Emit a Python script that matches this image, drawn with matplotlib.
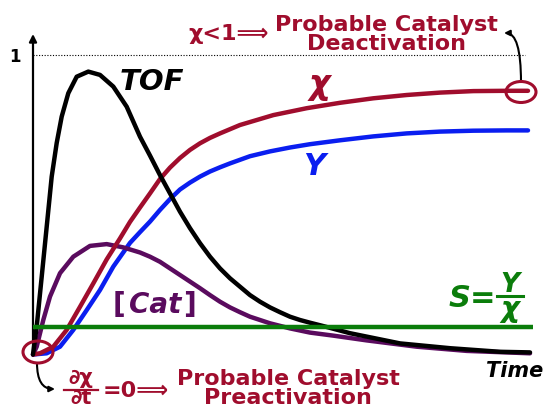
import matplotlib
matplotlib.use('Agg')
import matplotlib.pyplot as plt
from matplotlib.patches import Ellipse
from matplotlib.lines import Line2D

# ---------------- data ----------------
tof_t = [0, 0.074, 0.174, 0.274, 0.374, 0.474, 0.574, 0.706, 0.874, 1.106,
         1.34, 1.606, 1.874, 2.14, 2.34, 2.54, 2.74, 2.94, 3.14, 3.34, 3.54,
         3.74, 3.94, 4.14, 4.34, 4.54, 4.74, 4.94, 5.14, 5.34, 5.54, 5.8,
         6.34, 7.34, 8.34, 9.34, 9.94]
tof = [0, 0.093, 0.259, 0.426, 0.593, 0.705, 0.793, 0.871, 0.926, 0.943,
       0.932, 0.893, 0.826, 0.726, 0.663, 0.598, 0.537, 0.476, 0.421, 0.371,
       0.326, 0.287, 0.254, 0.226, 0.198, 0.176, 0.157, 0.141, 0.126, 0.115,
       0.106, 0.095, 0.071, 0.037, 0.021, 0.009, 0.007]

cat_t = [0, 0.074, 0.206, 0.34, 0.54, 0.806, 1.14, 1.474, 1.806, 2.14, 2.34,
         2.54, 2.74, 2.94, 3.14, 3.34, 3.54, 3.74, 3.94, 4.14, 4.34, 4.54,
         4.74, 5.14, 5.54, 6.0, 6.674, 7.674, 8.674, 9.94]
cat = [0, 0.026, 0.115, 0.193, 0.271, 0.326, 0.362, 0.368, 0.357, 0.34, 0.326,
       0.309, 0.287, 0.265, 0.243, 0.221, 0.198, 0.176, 0.157, 0.141, 0.126,
       0.115, 0.104, 0.087, 0.073, 0.063, 0.047, 0.026, 0.012, 0.004]

chi_t = [0, 0.14, 0.406, 0.674, 0.94, 1.206, 1.474, 1.74, 1.94, 2.14, 2.34,
         2.54, 2.74, 2.94, 3.14, 3.34, 3.54, 3.74, 4.14, 4.806, 5.474, 6.14,
         6.806, 7.474, 8.14, 8.806, 9.474, 9.9]
chi = [0, 0.004, 0.026, 0.082, 0.159, 0.237, 0.317, 0.387, 0.442, 0.49, 0.537,
       0.585, 0.623, 0.655, 0.682, 0.704, 0.722, 0.737, 0.765, 0.798, 0.821,
       0.839, 0.854, 0.865, 0.873, 0.878, 0.879, 0.879]

y_t = [0, 0.274, 0.54, 0.806, 1.074, 1.34, 1.606, 1.94, 2.14, 2.34, 2.54, 2.74,
       2.94, 3.14, 3.34, 3.54, 3.74, 3.94, 4.14, 4.34, 4.74, 5.14, 5.54, 6.14,
       6.806, 7.474, 8.14, 8.806, 9.474, 9.9]
yld = [0, 0.004, 0.026, 0.082, 0.148, 0.215, 0.293, 0.372, 0.408, 0.443, 0.482,
       0.518, 0.55, 0.573, 0.593, 0.61, 0.624, 0.637, 0.649, 0.661, 0.677,
       0.69, 0.701, 0.714, 0.727, 0.737, 0.743, 0.746, 0.747, 0.747]

s_t = [0, 10.0]
sel = [0.093, 0.093]

# ---------------- style ----------------
RED = '#a00d2d'
PURPLE = '#5a0b5e'
BLUE = '#0a1ef0'
GREEN = '#0b7d0b'
BLACK = '#000000'
LW = 3.2

plt.rcParams['font.family'] = ['DejaVu Sans']

fig = plt.figure(figsize=(5.44, 4.08), dpi=100)
ax = fig.add_axes([0, 0, 1, 1])
ax.set_xlim(-33 / 50, (544 - 33) / 50)
ax.set_ylim((354.5 - 408) / 300, 354.5 / 300)
ax.axis('off')


def X(px):
    return (px - 33) / 50


def Y(py):
    return (354.5 - py) / 300


# reference dotted line at 1
ax.plot([0, X(525)], [1, 1], color='black', lw=0.8, ls=(0, (1, 1.5)))

# axes with arrows
ax.annotate('', xy=(0, Y(34)), xytext=(0, Y(356)),
            arrowprops=dict(arrowstyle='-|>', color='black', lw=1.6,
                            mutation_scale=11, shrinkA=0, shrinkB=0))
ax.annotate('', xy=(X(545), Y(355)), xytext=(X(31), Y(355)),
            arrowprops=dict(arrowstyle='-|>', color='black', lw=1.6,
                            mutation_scale=11, shrinkA=0, shrinkB=0))

# curves
kw = dict(lw=LW, solid_capstyle='round', solid_joinstyle='round')
ax.plot(y_t, yld, color=BLUE, zorder=3, **kw)
ax.plot(cat_t, cat, color=PURPLE, zorder=3, **kw)
ax.plot(chi_t, chi, color=RED, zorder=4, **kw)
ax.plot(tof_t, tof, color=BLACK, zorder=5, **kw)
ax.plot(s_t, sel, color=GREEN, lw=LW, solid_capstyle='butt', zorder=6)

# circles
ax.add_patch(Ellipse((X(38), Y(352)), 30 / 50, 22 / 300, fill=False,
                     edgecolor=RED, lw=2.2, zorder=7))
ax.add_patch(Ellipse((X(521), Y(92)), 30 / 50, 21 / 300, fill=False,
                     edgecolor=RED, lw=2.2, zorder=7))

# curved pointer arrows
ax.annotate('', xy=(X(504), Y(33)), xytext=(X(521), Y(82)),
            arrowprops=dict(arrowstyle='-|>', color='black', lw=1.5,
                            mutation_scale=8, shrinkA=0, shrinkB=0,
                            connectionstyle='angle3,angleA=90,angleB=0'))
ax.annotate('', xy=(X(55), Y(389)), xytext=(X(37), Y(363)),
            arrowprops=dict(arrowstyle='-|>', color='black', lw=1.5,
                            mutation_scale=8, shrinkA=0, shrinkB=0,
                            connectionstyle='angle3,angleA=-90,angleB=0'))

bold = dict(fontweight='bold')

# axis labels
ax.text(X(15), Y(62), '1', fontsize=12, color='black', ha='center',
        va='baseline', **bold)
ax.text(X(515), Y(377), 'Time', fontsize=15, color='black', ha='center',
        va='baseline', style='italic', **bold)

# curve labels
ax.text(X(152), Y(90), 'TOF', fontsize=21, color=BLACK, ha='center',
        va='baseline', style='italic', **bold)
ax.text(X(319), Y(94), 'χ', fontsize=24, color=RED, ha='center',
        va='baseline', style='italic', **bold)
ax.text(X(314), Y(175), 'Y', fontsize=22, color=BLUE, ha='center',
        va='baseline', style='italic', **bold)
ax.text(X(119), Y(313), '[', fontsize=20, color=PURPLE, ha='center',
        va='baseline', **bold)
ax.text(X(155), Y(313), 'Cat', fontsize=20, color=PURPLE, ha='center',
        va='baseline', style='italic', **bold)
ax.text(X(189), Y(313), ']', fontsize=20, color=PURPLE, ha='center',
        va='baseline', **bold)

# S = Y / chi
ax.text(X(496), Y(307), 'S=', fontsize=22, color=GREEN, ha='right',
        va='baseline', style='italic', **bold)
ax.text(X(510), Y(292), 'Y', fontsize=19, color=GREEN, ha='center',
        va='baseline', style='italic', **bold)
ax.text(X(510), Y(317), 'χ', fontsize=21, color=GREEN, ha='center',
        va='baseline', style='italic', **bold)
ax.add_line(Line2D([X(497), X(523)], [Y(296), Y(296)], color=GREEN, lw=2.2))

# top annotation
ax.text(X(229), Y(40), 'χ<1⟹', fontsize=16, color=RED, ha='center',
        va='baseline', **bold)
ax.text(X(386), Y(31), 'Probable Catalyst', fontsize=16, color=RED,
        ha='center', va='baseline', **bold)
ax.text(X(387), Y(50), 'Deactivation', fontsize=16, color=RED,
        ha='center', va='baseline', **bold)

# bottom annotation
ax.text(X(81), Y(384), '∂χ', fontsize=15, color=RED, ha='center',
        va='baseline', **bold)
ax.text(X(81), Y(404), '∂t', fontsize=15, color=RED, ha='center',
        va='baseline', **bold)
ax.add_line(Line2D([X(64), X(98)], [Y(390), Y(390)], color=RED, lw=1.6))
ax.text(X(136), Y(397), '=0⟹', fontsize=16, color=RED, ha='center',
        va='baseline', **bold)
ax.text(X(288), Y(385), 'Probable Catalyst', fontsize=16, color=RED,
        ha='center', va='baseline', **bold)
ax.text(X(288), Y(404), 'Preactivation', fontsize=16, color=RED,
        ha='center', va='baseline', **bold)

fig.savefig('out.png', dpi=100, facecolor='white')
